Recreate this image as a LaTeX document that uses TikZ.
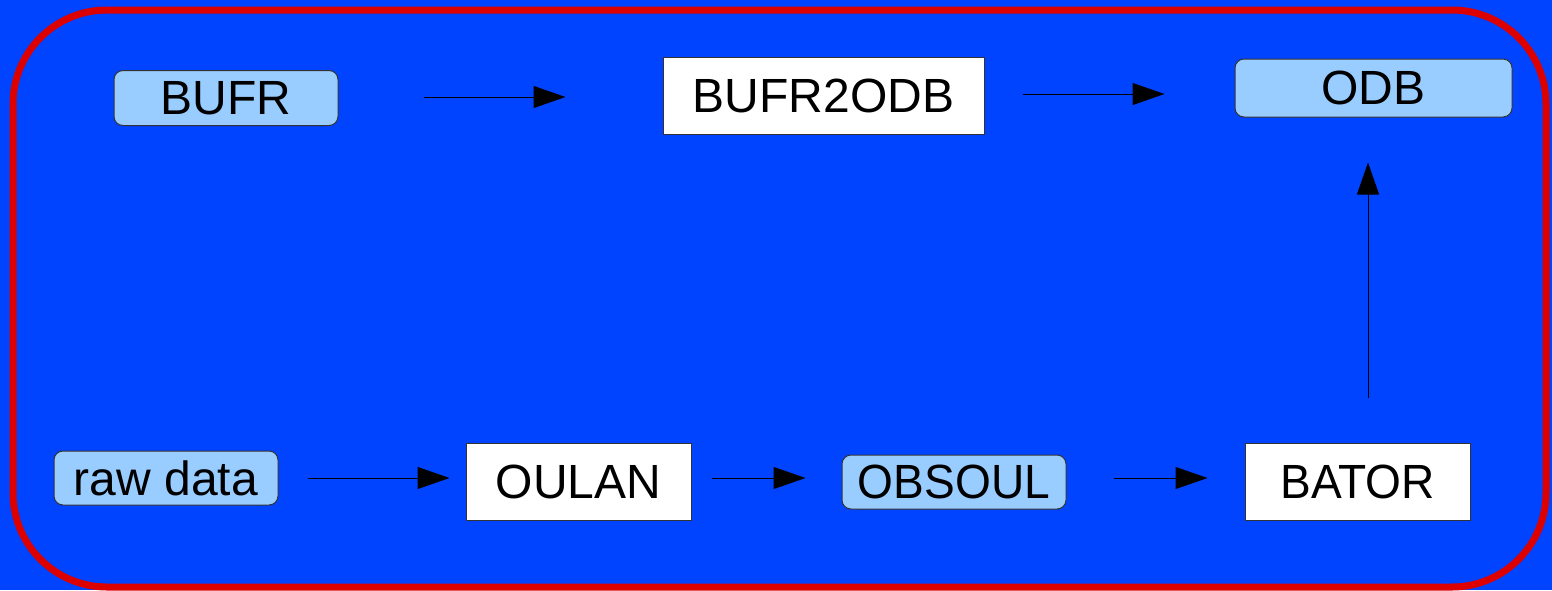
\documentclass[tikz,border=0pt]{standalone}
\usepackage{fontspec}
\setmainfont{Liberation Sans}
\usetikzlibrary{arrows.meta,calc}
\definecolor{bgblue}{HTML}{0044FF}
\definecolor{boxblue}{HTML}{99CCFF}
\definecolor{frame}{HTML}{DD0000}
\tikzset{
  databox/.style={draw=black!80, line width=0.5pt, fill=boxblue, rounded corners=4.5pt,
    inner sep=0pt, font=\fontsize{24}{28}\selectfont},
  procbox/.style={draw=black!80, line width=0.5pt, fill=white,
    inner sep=0pt, font=\fontsize{24}{28}\selectfont},
  arr/.style={draw=black, line width=0.5pt, -{Triangle[length=16pt,width=11pt]}}
}
\begin{document}
\begin{tikzpicture}[x=0.5pt,y=-0.5pt]
\fill[bgblue] (0,0) rectangle (1552,590);
\useasboundingbox (0,0) rectangle (1552,590);
\draw[frame, line width=3.5pt, rounded corners=47pt] (13,10) rectangle (1546,587);
\node[databox, minimum width=112pt, minimum height=27.5pt] (bufr) at (226,98) {BUFR};
\node[procbox, minimum width=160.5pt, minimum height=38.5pt] (b2o) at (823.5,95.5) {BUFR2ODB};
\node[databox, minimum width=138.5pt, minimum height=29pt] (odb) at (1373.5,88) {ODB};
\node[databox, minimum width=112pt, minimum height=27pt] (raw) at (166,478) {raw data};
\node[procbox, minimum width=112.5pt, minimum height=38.5pt] (oulan) at (578.5,481.5) {OULAN};
\node[databox, minimum width=112pt, minimum height=27pt] (obsoul) at (954,482) {\scalebox{0.96}[1]{OBSOUL}};
\node[procbox, minimum width=112.5pt, minimum height=38.5pt] (bator) at (1357.5,481.5) {\scalebox{0.96}[1]{BATOR}};
\draw[arr] ($(bufr.east)+(85,-1)$) -- ($(b2o.west)+(-97,1.5)$);
\draw[arr] ($(b2o.east)+(38,-1.5)$) -- ($(odb.west)+(-70,6)$);
\draw[arr] ($(bator.north)+(10.5,-45)$) -- ($(odb.south)+(-5.5,45)$);
\draw[arr] ($(raw.east)+(29,0)$) -- ($(oulan.west)+(-16,-3.5)$);
\draw[arr] ($(oulan.east)+(20,-3.5)$) -- ($(obsoul.west)+(-36,-4)$);
\draw[arr] ($(obsoul.east)+(47,-4)$) -- ($(bator.west)+(-37,-3.5)$);
\end{tikzpicture}
\end{document}
